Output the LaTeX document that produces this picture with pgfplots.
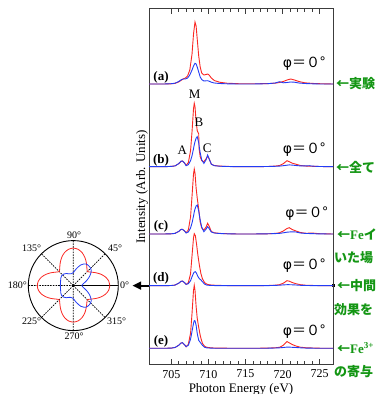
\documentclass[border=0pt]{standalone}
\usepackage{fontspec}
\setmainfont{Liberation Serif}
\newfontfamily\jp{Noto Sans CJK JP}
\newfontfamily\dejavu{DejaVu Sans}
\usepackage{pgfplots}
\pgfplotsset{compat=1.18}
\usepackage{pgfplotstable}
\usepgfplotslibrary{polar}
\definecolor{specred}{RGB}{250,40,35}
\definecolor{specblue}{RGB}{35,60,245}
\definecolor{jgreen}{RGB}{20,150,20}
\definecolor{frame}{RGB}{60,60,60}

% spectrum (a)
\pgfplotstableread{
x r b
702 0 0
704 0 0
705 0.2 0.3
705.5 0.6 0.8
706.0 2.0 2.5
706.3 3.5 4.0
706.6 5.0 5.0
706.9 6.0 5.0
707.2 8.0 6.0
707.5 14 9
707.8 30 14
708.0 50 18
708.2 62 20.7
708.35 58 20
708.5 45 17
708.7 28 12
708.9 17 7
709.1 11 4.5
709.4 9 3
709.7 9.5 3.2
709.9 10 3.3
710.1 9 2.8
710.4 6 1.8
710.8 3.5 1
711.5 1.8 0.5
712.5 0.8 0.2
714 0.3 0
716 0.2 0
718 0.4 0.3
719 0.8 1
719.6 1.5 2.3
720.1 2.5 1.2
720.6 4 1.5
721.1 5 2
721.6 4 1.8
722.2 2.5 1
723 1.2 0.5
724 0.6 0.2
725 0.3 0
726.8 0 0
}\tA
% spectrum (b)
\pgfplotstableread{
x r b
702 0 0
704 0 0
705 0.3 0.3
705.5 0.8 0.8
706.0 3 3
706.3 5.2 5.5
706.5 5.7 5.7
706.8 3.5 3.5
707.0 1.5 1
707.3 4 2
707.6 16 6
707.8 35 11
708.0 58 18
708.1 63.4 22
708.2 60 25
708.35 45 28.5
708.5 36 30
708.7 33 24
708.75 18 21
708.9 10 14
709.1 6 7
709.4 5 3.3
709.7 8 7
709.9 10.5 11.7
710.1 8 8
710.4 2.5 2.5
710.8 1.2 1
711.5 0.6 0.5
712.5 0.3 0.2
714 0 0
716 0 0
718 0.2 0.2
719 0.6 0.4
719.6 1.2 0.6
720.1 3 1
720.6 6 1.5
720.9 5 1.8
721.3 3.5 1.6
721.8 2.5 1.2
722.4 1.2 0.8
723.2 0.6 0.8
723.6 0.5 1.0
724 0.4 0.6
725 0.2 0.2
726.8 0 0
}\tB
% spectrum (c)
\pgfplotstableread{
x r b
702 0 0
704 0 0
705 0.2 0.2
705.5 0.6 0.6
706.0 2.5 2.5
706.3 4.5 4.5
706.5 4.7 4.7
706.8 3 3
707.0 1.3 1
707.3 4 2
707.6 17 6
707.8 38 11
708.0 60 18
708.1 65 22
708.2 61 25
708.35 46 28
708.5 36 29
708.7 25 23
708.9 12 14
709.1 6 7
709.4 4 2.3
709.7 7 5
709.9 10.7 7.3
710.1 8 5.5
710.4 2.5 2
710.8 1.2 1
711.5 0.6 0.5
712.5 0.3 0.2
714 0 0
716 0 0
718 0.2 0.2
719 0.6 0.4
719.6 1.2 0.6
720.1 3 1.2
720.6 5.5 1.8
720.9 6.3 2
721.3 4.5 2.2
721.8 3 2
722.4 1.5 1
723.2 0.7 0.5
724 1 0.4
724.5 0.6 0.2
725 0.3 0.1
726.8 0 0
}\tC
% spectrum (d)
\pgfplotstableread{
x r b
702 0 0
704 0 0
705 0.2 0.2
705.5 0.6 0.6
706.0 2.5 2.5
706.3 4.3 4.3
706.5 4.7 4.7
706.8 3 3
707.0 1.3 1.3
707.3 3 2
707.6 12 5
707.8 30 9
708.0 48 12.5
708.1 52 13.5
708.25 50 14
708.4 42 12.5
708.6 30 9
708.8 20 7
709.0 12 5.7
709.2 7 4
709.5 3 1.5
709.8 1.5 0.6
710.2 0.8 0.3
711 0.4 0.1
712 0.2 0
714 0 0
716 0 0
718 0.2 0.1
719 0.5 0.3
719.6 1 0.5
720.1 2.5 0.8
720.6 5 1
720.9 4.5 1
721.3 3.2 0.9
721.8 2 0.7
722.4 1 0.4
723.2 0.4 0.2
725 0.1 0
726.8 0 0
}\tD
% spectrum (e)
\pgfplotstableread{
x r b
702 0 0
704 0 0
705 0.2 0.2
705.5 0.8 0.8
706.0 3 3
706.3 5.2 5.2
706.5 5.7 5.7
706.8 3.5 3.5
707.0 1.5 1.7
707.3 4 3
707.6 15 9
707.8 35 17
708.0 58 25
708.1 63 27.7
708.2 58 27.5
708.35 42 23
708.5 30 15
708.7 21 8
708.9 13 6
709.0 10 5
709.2 5 3
709.5 2 1
709.8 1 0.4
710.3 0.5 0.2
711 0.2 0
714 0 0
716 0 0
718 0.2 0.1
719 0.5 0.3
719.6 1 0.5
720.1 3 0.8
720.6 6.7 1.2
720.9 5.5 1.2
721.3 3.8 1
721.8 2.3 0.8
722.4 1.1 0.5
723.2 0.5 0.2
725 0.1 0
726.8 0 0
}\tE
% polar, red
\pgfplotstableread{
a r
0 36.5
7.5 35.7
15 33.3
22.5 29.8
30 25.8
37.5 22.2
45 20
52.5 22.3
60 26.2
67.5 30.4
75 34.1
82.5 36.6
90 37.5
97.5 36.6
105 34.1
112.5 30.4
120 26.2
127.5 22.3
135 20
142.5 22.1
150 25.7
157.5 29.5
165 32.9
172.5 35.2
180 36
187.5 35.2
195 32.9
202.5 29.5
210 25.7
217.5 22.1
225 20
232.5 22.2
240 25.8
247.5 29.8
255 33.3
262.5 35.7
270 36.5
277.5 35.7
285 33.3
292.5 29.8
300 25.8
307.5 22.2
315 20
322.5 22.2
330 25.8
337.5 29.8
345 33.3
352.5 35.7
360 36.5
}\pr
% polar, blue
\pgfplotstableread{
a r
0 8.5
10 10
20 14
30 19
40 23.5
50 25
60 25
70 22
80 17
90 13
100 12
110 12.5
120 14
130 15
140 15.3
150 14.5
160 13.5
170 13
180 13
190 13
200 13.5
210 14.5
220 15.3
230 15
240 14
250 12.5
260 12
270 13
280 17
290 22
300 25
310 25
320 23.5
330 19
340 14
350 10
360 8.5
}\pb

\newcommand\philabel{{\dejavu φ}＝０°}

\begin{document}
\begin{tikzpicture}[x=1pt,y=1pt]
% arrow from the panel (d) to the polar plot
\draw[line width=2pt] (149,108.4) -- (140,108.4);
\fill (132.7,108.4) -- (141,112.6) -- (141,104.2) -- cycle;
\fill (331.5,106.9) rectangle (334.5,109.9);

\begin{axis}[
  at={(149pt,29.5pt)}, anchor=south west,
  scale only axis, width=184pt, height=355.5pt,
  xmin=702, xmax=726.8, ymin=0, ymax=355.5,
  xtick={705,710,715,720,725}, minor x tick num=4,
  ytick=\empty,
  tick align=inside,
  major tick length=5.5pt, minor tick length=3pt,
  every tick/.style={frame, line width=0.7pt},
  axis line style={frame, line width=1pt},
  /pgf/number format/assume math mode=true,
  /pgf/number format/1000 sep={},
  tick label style={font=\fontsize{12}{14}\selectfont},
  xticklabel style={yshift=-2pt},
  xlabel={Photon Energy (eV)},
  ylabel={Intensity (Arb. Units)},
  label style={font=\fontsize{13}{15}\selectfont},
  xlabel style={at={(axis description cs:0.5,0)}, anchor=center, yshift=-24.8pt},
  ylabel style={at={(axis description cs:-0.038,0.5)}, anchor=center},
]
\addplot[specred, line width=0.9pt] table[x=x, y expr=\thisrow{r}+280.5]{\tA};
\addplot[specblue, line width=0.9pt] table[x=x, y expr=\thisrow{b}+280.5]{\tA};
\addplot[specred, line width=0.9pt] table[x=x, y expr=\thisrow{r}+197.8]{\tB};
\addplot[specblue, line width=0.9pt] table[x=x, y expr=\thisrow{b}+197.8]{\tB};
\addplot[specred, line width=0.9pt] table[x=x, y expr=\thisrow{r}+130.5]{\tC};
\addplot[specblue, line width=0.9pt] table[x=x, y expr=\thisrow{b}+130.5]{\tC};
\addplot[specred, line width=0.9pt] table[x=x, y expr=\thisrow{r}+78.8]{\tD};
\addplot[specblue, line width=0.9pt] table[x=x, y expr=\thisrow{b}+78.8]{\tD};
\addplot[specred, line width=0.9pt] table[x=x, y expr=\thisrow{r}+16.2]{\tE};
\addplot[specblue, line width=0.9pt] table[x=x, y expr=\thisrow{b}+16.2]{\tE};
\end{axis}

\begin{polaraxis}[
  at={(73.3pt,108.4pt)}, anchor=center,
  scale only axis, width=90pt, height=90pt,
  ymin=0, ymax=45,
  xtick={0,45,...,315}, xticklabels={},
  ytick=\empty,
  major tick length=0pt,
  xmajorgrids,
  major grid style={black, line width=0.7pt, dash pattern=on 1.6pt off 1.1pt},
  axis line style={black, line width=0.9pt},
]
\addplot[specred, line width=0.8pt, smooth] table[x=a, y=r]{\pr};
\addplot[specblue, line width=0.8pt, smooth] table[x=a, y=r]{\pb};
\end{polaraxis}

% polar labels
\begin{scope}[every node/.style={font=\fontsize{10}{12}\selectfont, inner sep=0pt}]
\node at (74,159) {90°};
\node at (115,145.7) {45°};
\node at (31.7,145.7) {135°};
\node at (17.3,108.4) {180°};
\node at (124.5,108.4) {0°};
\node at (31.7,73) {225°};
\node at (116.7,73) {315°};
\node at (74,58) {270°};
\end{scope}

% panel labels
\begin{scope}[every node/.style={font=\bfseries\fontsize{13}{15}\selectfont, inner sep=0pt}]
\node at (161,316.7) {(a)};
\node at (161,234) {(b)};
\node at (161,167.3) {(c)};
\node at (161,116) {(d)};
\node at (161,52.3) {(e)};
\end{scope}
\begin{scope}[every node/.style={font=\fontsize{13}{15}\selectfont, inner sep=0pt}]
\node at (194.7,300) {M};
\node at (199,271.3) {B};
\node at (182.3,243.3) {A};
\node at (207.3,246) {C};
\end{scope}

% phi labels
\begin{scope}[every node/.style={font=\jp\fontsize{14}{16}\selectfont, inner sep=0pt}]
\node at (304,330) {\philabel};
\node at (304,244) {\philabel};
\node at (306.7,180) {\philabel};
\node at (304,128) {\philabel};
\node at (304,62) {\philabel};
\end{scope}

% green annotations (the reference is cropped at its right edge)
\begin{scope}[every node/.style={anchor=west, inner sep=0pt, text=jgreen, font=\jp\bfseries\fontsize{13}{15}\selectfont}]
\node at (336,310) {←実験};
\node at (336,227) {←全て};
\node at (337,160) {←{\rmfamily\bfseries Fe}イ};
\node at (334,136) {いた場};
\node at (337,108) {←中間};
\node at (334,84) {効果を};
\node at (337,46) {←{\rmfamily\bfseries Fe\textsuperscript{3+}}};
\node at (334,22) {の寄与};
\end{scope}
\pgfresetboundingbox
\useasboundingbox (0,0) rectangle (380,394);
\end{tikzpicture}
\end{document}
